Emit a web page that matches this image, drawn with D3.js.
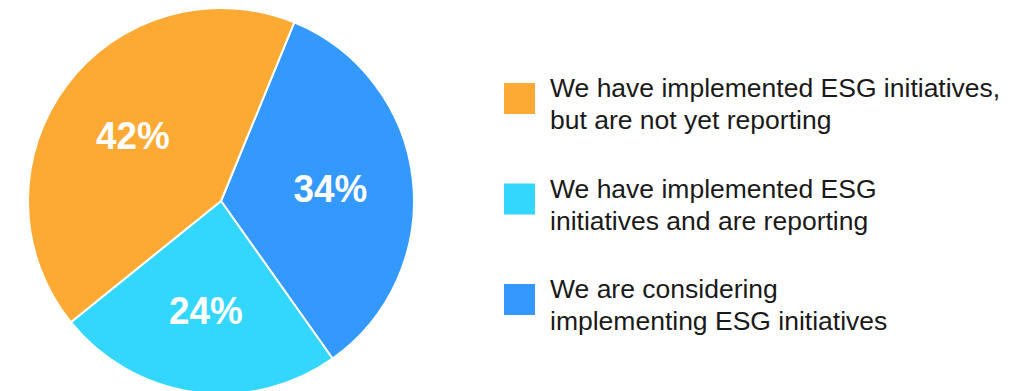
<!DOCTYPE html>
<html>
<head>
<meta charset="utf-8">
<script src="https://cdn.jsdelivr.net/npm/d3@7"></script>
<style>
  html, body { margin: 0; padding: 0; background: #fff; }
  svg { display: block; }
</style>
</head>
<body>
<svg id="chart" width="1017" height="391"></svg>
<script>
// ESG initiative status – share of respondents
const categories = [
  "We are considering implementing ESG initiatives",
  "We have implemented ESG initiatives and are reporting",
  "We have implemented ESG initiatives, but are not yet reporting"
];
const values = [34, 24, 42];
const colors = ["#3399FF", "#33D6FD", "#FCAA33"];

// Legend order and line breaks
const legendOrder = [2, 1, 0];
const legendLines = [
  ["We are considering", "implementing ESG initiatives"],
  ["We have implemented ESG", "initiatives and are reporting"],
  ["We have implemented ESG initiatives,", "but are not yet reporting"]
];

const svg = d3.select("#chart");
const cx = 221, cy = 201, radius = 193;
const startDeg = 22.3;

const pie = d3.pie()
  .sort(null)
  .value(d => d)
  .startAngle(startDeg * Math.PI / 180)
  .endAngle((startDeg + 360) * Math.PI / 180);

const arcs = pie(values);
const arc = d3.arc().innerRadius(0).outerRadius(radius);
const labelArc = d3.arc().innerRadius(110).outerRadius(110);

const g = svg.append("g").attr("transform", `translate(${cx},${cy})`);

g.selectAll("path.slice")
  .data(arcs)
  .join("path")
  .attr("class", "slice")
  .attr("d", arc)
  .attr("fill", (d, i) => colors[i])
  .attr("stroke", "#fff")
  .attr("stroke-width", 2)
  .attr("stroke-linejoin", "round");

g.selectAll("text.pct")
  .data(arcs)
  .join("text")
  .attr("class", "pct")
  .attr("transform", d => `translate(${labelArc.centroid(d)}) scale(0.97,1)`)
  .attr("text-anchor", "middle")
  .attr("dy", "0.36em")
  .attr("fill", "#fff")
  .style("font-family", "'Liberation Sans', Arial, sans-serif")
  .style("font-weight", "bold")
  .style("font-size", "38px")
  .text(d => d.value + "%");

// Legend
const legendX = 504, legendTop = 83, legendStep = 100.5, sw = 31;
const lg = svg.append("g");
legendOrder.forEach((idx, row) => {
  const y = legendTop + row * legendStep;
  lg.append("rect")
    .attr("x", legendX).attr("y", y)
    .attr("width", sw).attr("height", sw)
    .attr("fill", colors[idx]);
  const t = lg.append("text")
    .attr("x", 550)
    .attr("y", y + 14)
    .attr("fill", "#1a1a1a")
    .style("font-family", "'Liberation Sans', Arial, sans-serif")
    .style("font-size", "26.5px");
  legendLines[idx].forEach((line, k) => {
    t.append("tspan").attr("x", 550).attr("dy", k === 0 ? 0 : 32).text(line);
  });
});
</script>
</body>
</html>
